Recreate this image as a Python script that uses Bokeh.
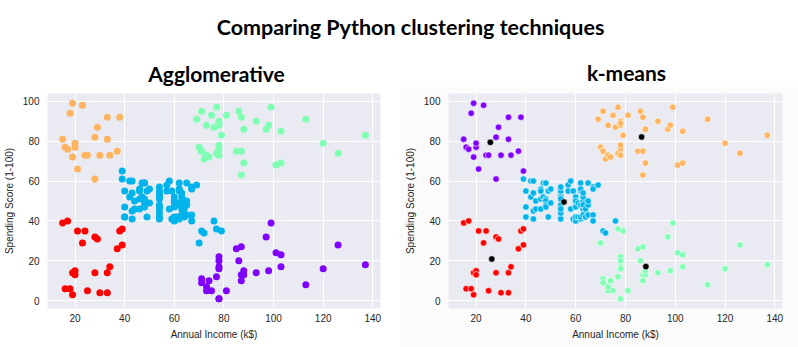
from bokeh.plotting import figure
from bokeh.layouts import column, row
from bokeh.models import Range1d, FixedTicker, ColumnDataSource
from bokeh.core.properties import value
from bokeh.embed import file_html
from bokeh.resources import INLINE

income = [15,15,16,16,17,17,18,18,19,19,19,19,20,20,20,20,21,21,23,23,
          24,24,25,25,28,28,28,28,29,29,30,30,33,33,33,33,34,34,37,37,
          38,38,39,39,39,39,40,40,40,40,42,42,43,43,43,43,44,44,46,46,
          46,46,47,47,48,48,48,48,48,48,49,49,50,50,54,54,54,54,54,54,
          54,54,54,54,54,54,57,57,58,58,59,59,60,60,60,60,60,60,61,61,
          62,62,62,62,62,62,63,63,63,63,63,63,64,64,65,65,65,65,67,67,
          67,67,69,69,70,70,71,71,71,71,71,71,72,72,73,73,73,73,74,74,
          75,75,76,76,77,77,77,77,78,78,78,78,78,78,78,78,78,78,78,78,
          79,79,81,81,85,85,86,86,87,87,87,87,87,87,88,88,88,88,93,93,
          97,97,98,98,99,99,101,101,103,103,103,103,113,113,120,120,126,126,137,137]

score = [39,81,6,77,40,76,6,94,3,72,14,99,15,77,13,79,35,66,29,98,
         35,73,5,73,14,82,32,61,31,87,4,73,4,92,14,81,17,73,26,75,
         35,92,36,61,28,65,55,47,42,42,52,60,54,60,45,41,50,46,51,46,
         56,55,52,59,51,59,50,48,59,47,55,42,49,56,47,54,53,48,52,42,
         51,55,41,44,57,46,58,55,60,46,55,41,49,40,42,52,47,50,42,49,
         41,48,59,55,56,42,50,46,43,48,52,54,42,46,48,50,43,59,43,57,
         56,40,58,91,29,77,35,95,11,75,9,75,34,71,5,88,7,73,10,72,
         5,93,40,87,12,97,36,74,22,90,17,88,20,76,16,89,1,78,1,73,
         35,83,5,93,26,75,20,95,27,63,13,75,10,92,13,86,15,69,14,90,
         32,86,15,88,39,97,24,68,17,85,23,69,8,91,16,79,28,74,18,83]

# cluster index -> colour index in palette (rainbow colormap, 5 clusters)
agg_labels = [4,3,4,3,4,3,4,3,4,3,4,3,4,3,4,3,4,3,4,3,
              4,3,4,3,4,3,4,3,4,3,4,3,4,3,4,3,4,3,4,3,
              4,3,4,1,4,1,1,1,1,1,1,1,1,1,1,1,1,1,1,1,
              1,1,1,1,1,1,1,1,1,1,1,1,1,1,1,1,1,1,1,1,
              1,1,1,1,1,1,1,1,1,1,1,1,1,1,1,1,1,1,1,1,
              1,1,1,1,1,1,1,1,1,1,1,1,1,1,1,1,1,1,1,1,
              1,1,1,2,1,2,1,2,0,2,0,2,1,2,0,2,0,2,0,2,
              0,2,1,2,0,2,1,2,0,2,0,2,0,2,0,2,0,2,0,2,
              1,2,0,2,0,2,0,2,0,2,0,2,0,2,0,2,0,2,0,2,
              0,2,0,2,0,2,0,2,0,2,0,2,0,2,0,2,0,2,0,2]

km_labels = [4,0,4,0,4,0,4,0,4,0,4,0,4,0,4,0,4,0,4,0,
             4,0,4,0,4,0,4,0,4,0,4,0,4,0,4,0,4,0,4,0,
             4,0,4,1,4,0,1,1,1,1,1,1,1,1,1,1,1,1,1,1,
             1,1,1,1,1,1,1,1,1,1,1,1,1,1,1,1,1,1,1,1,
             1,1,1,1,1,1,1,1,1,1,1,1,1,1,1,1,1,1,1,1,
             1,1,1,1,1,1,1,1,1,1,1,1,1,1,1,1,1,1,1,1,
             1,1,1,3,2,3,1,3,2,3,2,3,1,3,2,3,2,3,2,3,
             2,3,1,3,2,3,2,3,2,3,2,3,2,3,2,3,2,3,2,3,
             2,3,2,3,2,3,2,3,2,3,2,3,2,3,2,3,2,3,2,3,
             2,3,2,3,2,3,2,3,2,3,2,3,2,3,2,3,2,3,2,3]

centroid_x = [25.7, 55.3, 88.2, 86.5, 26.3]
centroid_y = [79.4, 49.5, 17.1, 82.1, 20.9]

palette = ["#8000ff", "#00b4eb", "#80ffb4", "#ffb462", "#ff0000"]

main_title = "Comparing Python clustering techniques"
sub_titles = ["Agglomerative", "k-means"]
x_label = "Annual Income (k$)"
y_label = "Spending Score (1-100)"
x_ticks = [20, 40, 60, 80, 100, 120, 140]
y_ticks = [0, 20, 40, 60, 80, 100]

FONT = "Liberation Sans"
TITLE_FONT = "Lato"
TXT = "#262626"

# ---------- top title strip ----------
TOP_H = 86
top = figure(width=798, height=TOP_H, x_range=Range1d(0, 798), y_range=Range1d(TOP_H, 0),
             output_backend="svg", toolbar_location=None, min_border=0)
top.axis.visible = False
top.grid.visible = False
top.outline_line_color = None
top.background_fill_color = "white"
top.border_fill_color = "white"
main_src = ColumnDataSource(dict(x=[410], y=[26], t=[main_title]))
top.text(x="x", y="y", text="t", source=main_src, text_align="center", text_baseline="alphabetic",
         text_font=value(TITLE_FONT), text_font_style="bold", text_font_size="21.5px", text_color="black")
sub_src = ColumnDataSource(dict(x=[216, 626], y=[73, 72], t=sub_titles))
top.text(x="x", y="y", text="t", source=sub_src, text_align="center", text_baseline="alphabetic",
         text_font=value(TITLE_FONT), text_font_style="bold", text_font_size="21px", text_color="black")


def make_panel(border_left, border_right, border_top, border_bottom, fill):
    H = 347 - TOP_H
    p = figure(width=399, height=H, x_range=Range1d(8.9, 143.1), y_range=Range1d(-3.9, 103.9),
               output_backend="svg", toolbar_location=None,
               min_border_left=border_left, min_border_right=border_right,
               min_border_top=border_top, min_border_bottom=border_bottom)
    p.background_fill_color = "#eaeaf2"
    p.border_fill_color = fill
    p.outline_line_color = None
    p.xaxis.ticker = FixedTicker(ticks=x_ticks)
    p.yaxis.ticker = FixedTicker(ticks=y_ticks)
    p.xgrid.ticker = FixedTicker(ticks=x_ticks)
    p.ygrid.ticker = FixedTicker(ticks=y_ticks)
    p.grid.grid_line_color = "white"
    p.grid.grid_line_width = 1
    for ax in (p.xaxis[0], p.yaxis[0]):
        ax.axis_line_color = None
        ax.major_tick_line_color = None
        ax.minor_tick_line_color = None
        ax.major_tick_out = 0
        ax.major_tick_in = 0
        ax.minor_tick_out = 0
        ax.major_label_text_font = FONT
        ax.major_label_text_font_size = "10px"
        ax.major_label_text_color = TXT
        ax.axis_label_text_font = FONT
        ax.axis_label_text_font_size = "10px"
        ax.axis_label_text_font_style = "normal"
        ax.axis_label_text_color = TXT
    p.xaxis.axis_label = x_label
    p.yaxis.axis_label = y_label
    p.xaxis.major_label_standoff = 5
    p.yaxis.major_label_standoff = 8
    p.xaxis.axis_label_standoff = 4
    p.yaxis.axis_label_standoff = 5
    return p


left = make_panel(45, 19, 7, 37, "white")
lsrc = ColumnDataSource(dict(x=income, y=score, c=[palette[i] for i in agg_labels]))
left.scatter(x="x", y="y", source=lsrc, size=7, fill_color="c", line_color=None)

right = make_panel(49, 16, 6, 39, "#fbfbfb")
rsrc = ColumnDataSource(dict(x=income, y=score, c=[palette[i] for i in km_labels]))
right.scatter(x="x", y="y", source=rsrc, size=6.5, fill_color="c", line_color="white", line_width=0.6)
right.scatter(x=centroid_x, y=centroid_y, size=6.5, fill_color="black", line_color="white", line_width=0.6)

layout = column(top, row(left, right, spacing=0), spacing=0)
open("out.html", "w").write(file_html(layout, INLINE))
